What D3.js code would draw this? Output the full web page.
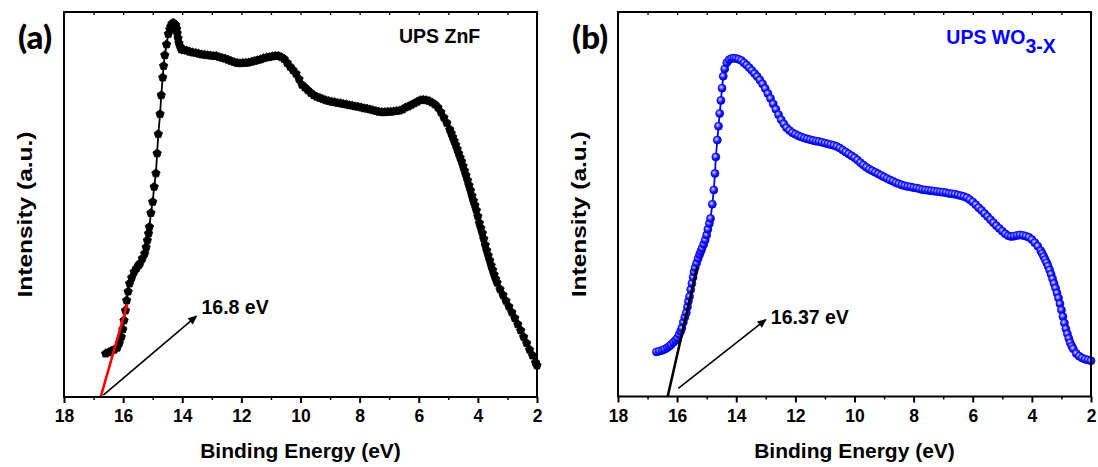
<!DOCTYPE html>
<html>
<head>
<meta charset="utf-8">
<script src="https://cdn.jsdelivr.net/npm/d3@7"></script>
<style>
  html, body { margin: 0; padding: 0; background: #fff; }
  svg { display: block; }
  text { font-family: "Liberation Sans", Arial, sans-serif; font-weight: bold; }
</style>
</head>
<body>
<svg id="chart" width="1098" height="467"></svg>
<script>
// ---------- DATA ----------
const xTicks = [18, 16, 14, 12, 10, 8, 6, 4, 2];
const xMinorTicks = [17, 15, 13, 11, 9, 7, 5, 3];

// Panel (a) UPS ZnF : binding energy (eV)
const energyA = [16.59,16.50,16.40,16.30,16.20,16.13,16.06,16.01,15.97,15.92,15.88,15.83,15.78,15.71,15.63,15.55,15.48,15.43,15.35,15.27,15.22,15.18,15.14,15.11,15.06,15.00,14.95,14.89,14.85,14.81,14.75,14.71,14.66,14.63,14.59,14.53,14.47,14.42,14.39,14.35,14.31,14.27,14.22,14.19,14.17,14.14,14.11,14.07,14.03,13.95,13.85,13.75,13.65,13.55,13.45,13.35,13.25,13.15,13.05,12.95,12.85,12.75,12.65,12.55,12.45,12.35,12.25,12.15,12.05,11.95,11.85,11.75,11.65,11.55,11.45,11.35,11.25,11.15,11.05,10.95,10.85,10.75,10.65,10.55,10.45,10.35,10.25,10.15,10.05,9.95,9.85,9.75,9.65,9.55,9.45,9.35,9.25,9.15,9.05,8.95,8.85,8.75,8.65,8.55,8.45,8.35,8.25,8.15,8.05,7.95,7.85,7.75,7.65,7.55,7.45,7.35,7.25,7.15,7.05,6.95,6.85,6.75,6.65,6.55,6.45,6.35,6.25,6.15,6.05,5.95,5.85,5.75,5.65,5.55,5.45,5.35,5.25,5.15,5.05,4.95,4.90,4.85,4.80,4.75,4.70,4.65,4.60,4.55,4.50,4.45,4.40,4.35,4.30,4.25,4.20,4.15,4.10,4.05,4.00,3.95,3.90,3.85,3.80,3.75,3.70,3.65,3.60,3.55,3.50,3.45,3.40,3.35,3.25,3.15,3.05,2.95,2.85,2.75,2.65,2.55,2.45,2.35,2.25,2.15,2.05,2.00];
const intensityA = [11.3,11.6,12.0,12.3,12.8,14.0,15.6,17.6,19.9,22.5,25.1,27.4,29.5,31.0,32.5,33.4,34.2,34.7,36.0,37.3,38.9,40.7,42.5,44.2,47.8,50.7,54.6,58.1,63.3,68.3,73.5,78.4,83.0,86.0,88.8,91.6,94.3,95.5,96.2,96.9,97.2,97.0,96.6,95.6,94.5,93.2,91.9,91.0,90.3,90.1,90.0,89.7,89.5,89.4,89.2,89.0,88.9,88.8,88.7,88.6,88.6,88.3,88.1,87.9,87.6,87.3,87.0,86.8,86.7,86.8,86.8,86.9,87.1,87.3,87.5,87.7,88.0,88.2,88.3,88.5,88.6,88.6,88.3,87.8,86.8,85.8,84.9,84.0,82.6,81.1,80.4,79.7,79.0,78.4,78.0,77.7,77.4,77.1,76.9,76.7,76.6,76.4,76.3,76.1,76.0,75.8,75.7,75.5,75.4,75.2,75.0,74.9,74.7,74.5,74.3,74.1,74.0,74.0,74.1,74.1,74.2,74.3,74.4,74.7,75.2,75.5,75.9,76.3,76.7,77.1,77.2,77.1,76.9,76.5,76.0,75.2,74.0,72.6,71.2,69.5,68.5,67.5,66.5,65.5,64.4,63.3,62.2,61.2,60.0,58.8,57.6,56.3,55.0,53.7,52.3,51.0,49.8,48.5,46.9,45.2,43.9,42.6,41.1,39.5,38.1,36.8,35.5,34.2,33.0,31.8,30.7,29.7,28.0,26.5,25.0,23.5,22.0,20.5,18.9,17.3,15.6,14.0,12.3,10.8,9.0,8.2];

// Panel (b) UPS WO3-x : binding energy (eV)
const energyB = [16.70,16.60,16.50,16.42,16.33,16.26,16.20,16.12,16.05,15.99,15.93,15.88,15.84,15.79,15.74,15.69,15.65,15.62,15.58,15.54,15.50,15.46,15.43,15.39,15.34,15.29,15.24,15.20,15.16,15.10,15.05,15.00,14.96,14.91,14.87,14.81,14.76,14.72,14.69,14.64,14.60,14.56,14.52,14.48,14.44,14.39,14.32,14.24,14.16,14.08,14.00,13.92,13.83,13.74,13.65,13.56,13.47,13.38,13.29,13.20,13.11,13.02,12.93,12.84,12.75,12.66,12.57,12.48,12.39,12.30,12.20,12.10,12.00,11.90,11.80,11.70,11.60,11.50,11.40,11.30,11.20,11.10,11.00,10.90,10.80,10.70,10.60,10.50,10.40,10.30,10.20,10.10,10.00,9.90,9.80,9.70,9.60,9.50,9.40,9.30,9.20,9.10,9.00,8.90,8.80,8.70,8.60,8.50,8.40,8.30,8.20,8.10,8.00,7.90,7.80,7.70,7.60,7.50,7.40,7.30,7.20,7.10,7.00,6.90,6.80,6.70,6.60,6.50,6.40,6.30,6.20,6.10,6.00,5.90,5.80,5.70,5.60,5.50,5.40,5.30,5.20,5.10,5.00,4.90,4.80,4.70,4.60,4.50,4.40,4.30,4.20,4.10,4.00,3.90,3.80,3.70,3.65,3.60,3.55,3.50,3.45,3.40,3.35,3.30,3.25,3.20,3.15,3.10,3.05,3.00,2.95,2.90,2.85,2.80,2.75,2.70,2.65,2.60,2.50,2.40,2.30,2.20,2.10,2.00];
const intensityB = [11.6,11.8,12.0,12.3,12.7,13.1,13.5,14.1,14.6,15.2,16.1,17.0,17.8,19.3,20.6,21.8,23.3,24.7,26.0,27.8,29.4,31.0,32.4,33.5,34.7,35.9,36.9,37.7,38.5,39.6,40.7,42.0,43.5,45.0,46.3,50.0,53.7,58.0,62.3,66.7,70.3,73.6,77.0,80.2,83.3,85.2,86.8,87.6,87.9,88.0,87.9,87.7,87.4,86.8,86.2,85.5,84.8,84.0,83.2,82.3,81.3,80.1,78.8,77.5,76.1,74.7,73.3,72.0,70.9,69.9,69.2,68.6,68.2,67.8,67.5,67.2,67.0,66.8,66.6,66.4,66.3,66.1,65.9,65.7,65.5,65.3,65.0,64.6,64.1,63.6,63.1,62.6,62.1,61.5,60.8,60.2,59.6,59.1,58.7,58.3,57.9,57.5,57.1,56.7,56.3,56.0,55.6,55.3,55.0,54.8,54.6,54.5,54.3,54.2,54.0,53.8,53.7,53.6,53.5,53.4,53.3,53.2,53.1,53.0,52.8,52.7,52.6,52.4,52.2,52.0,51.7,51.2,50.6,49.9,49.1,48.4,47.6,46.8,46.0,45.2,44.4,43.7,43.0,42.3,41.8,41.6,41.7,41.9,42.0,41.9,41.7,41.4,40.8,40.0,39.1,37.9,37.2,36.4,35.6,34.8,33.9,32.9,31.8,30.6,29.4,28.2,26.9,25.6,24.1,22.5,20.8,19.1,17.6,16.3,15.1,14.0,13.1,12.4,11.2,10.5,10.0,9.7,9.5,9.3];

// Onset tangent lines and arrows [E1, I1, E2, I2]
const tangentA = [16.76, 0, 15.86, 24.1];
const arrowA   = [16.67, 0.5, 13.52, 21.0];
const tangentB = [16.32, 0, 15.32, 33.7];
const arrowB   = [15.96, 2.1, 13.00, 20.0];

const panelLabels = ["(a)", "(b)"];
const onsetLabels = ["16.8 eV", "16.37 eV"];
const xTitle = "Binding Energy (eV)";
const yTitle = "Intensity (a.u.)";

// ---------- DRAW ----------
const svg = d3.select("#chart");
const defs = svg.append("defs");

const grad = defs.append("radialGradient").attr("id", "ball")
  .attr("cx", "40%").attr("cy", "38%").attr("r", "60%");
grad.append("stop").attr("offset", "0%").attr("stop-color", "#e8e8ff");
grad.append("stop").attr("offset", "22%").attr("stop-color", "#8c8cff");
grad.append("stop").attr("offset", "60%").attr("stop-color", "#1a1aff");
grad.append("stop").attr("offset", "100%").attr("stop-color", "#0000cc");

defs.append("marker").attr("id", "arrowHead")
  .attr("viewBox", "0 0 10 10").attr("refX", 9).attr("refY", 5)
  .attr("markerUnits", "userSpaceOnUse")
  .attr("markerWidth", 12).attr("markerHeight", 9)
  .attr("orient", "auto")
  .append("path").attr("d", "M0,0.5 L10,5 L0,9.5 Z").attr("fill", "#000");

const pentagon = {
  draw(ctx, size) {
    const r = Math.sqrt(size / 2.3776);
    for (let i = 0; i < 5; i++) {
      const a = -Math.PI / 2 + i * 2 * Math.PI / 5;
      const x = r * Math.cos(a), y = r * Math.sin(a);
      if (i) ctx.lineTo(x, y); else ctx.moveTo(x, y);
    }
    ctx.closePath();
  }
};

function panel(opts) {
  const { left, right, top, bottom } = opts;
  const x = d3.scaleLinear().domain([18, 2]).range([left, right]);
  const y = d3.scaleLinear().domain([0, 100]).range([bottom, top]);
  const g = svg.append("g");

  const data = opts.energy.map((e, i) => ({ e, v: opts.intensity[i] }))
    .sort((a, b) => b.e - a.e);

  // connecting line
  g.append("path").datum(data)
    .attr("d", d3.line().x(d => x(d.e)).y(d => y(d.v)))
    .attr("fill", "none").attr("stroke", opts.color).attr("stroke-width", opts.lineWidth);

  // markers
  if (opts.symbol === "pentagon") {
    g.append("g").selectAll("path").data(data).join("path")
      .attr("transform", d => `translate(${x(d.e)},${y(d.v)})`)
      .attr("d", d3.symbol().type(pentagon).size(46))
      .attr("fill", "#000").attr("stroke", "#000").attr("stroke-width", 0.8);
  } else {
    g.append("g").selectAll("circle").data(data).join("circle")
      .attr("cx", d => x(d.e)).attr("cy", d => y(d.v)).attr("r", 4)
      .attr("fill", "url(#ball)").attr("stroke", "#0000ee").attr("stroke-width", 0.7);
  }

  // tangent line
  const t = opts.tangent;
  g.append("line")
    .attr("x1", x(t[0])).attr("y1", y(t[1])).attr("x2", x(t[2])).attr("y2", y(t[3]))
    .attr("stroke", opts.tangentColor).attr("stroke-width", 2.6);

  // arrow
  const a = opts.arrow;
  g.append("line")
    .attr("x1", x(a[0])).attr("y1", y(a[1])).attr("x2", x(a[2])).attr("y2", y(a[3]))
    .attr("stroke", "#000").attr("stroke-width", 1.6).attr("marker-end", "url(#arrowHead)");

  g.append("text").attr("x", x(a[2]) + 5).attr("y", y(a[3]) + opts.onsetDy)
    .attr("font-size", 19.5).attr("fill", "#000").text(opts.onsetLabel);

  // axes
  const axB = g.append("g").attr("transform", `translate(0,${bottom})`)
    .call(d3.axisBottom(x).tickValues(xTicks).tickSize(6).tickPadding(7).tickFormat(d3.format("d")));
  axB.select(".domain").remove();
  axB.selectAll(".tick line").attr("stroke-width", 2);
  axB.selectAll("text").attr("font-size", 17.5).attr("font-family", "'Liberation Sans', Arial, sans-serif")
    .attr("font-weight", "bold").attr("fill", "#000");

  const axBm = g.append("g").attr("transform", `translate(0,${bottom})`)
    .call(d3.axisBottom(x).tickValues(xMinorTicks).tickSize(3).tickFormat(""));
  axBm.select(".domain").remove();
  axBm.selectAll(".tick line").attr("stroke-width", 1.5);

  const axT = g.append("g").attr("transform", `translate(0,${top})`)
    .call(d3.axisTop(x).tickValues(xTicks.concat(xMinorTicks)).tickSize(-3).tickFormat(""));
  axT.select(".domain").remove();
  axT.selectAll(".tick line").attr("stroke-width", 1.3);

  // frame
  g.append("rect").attr("x", left).attr("y", top)
    .attr("width", right - left).attr("height", bottom - top)
    .attr("fill", "none").attr("stroke", "#000").attr("stroke-width", 2);

  // titles
  g.append("text").attr("x", (left + right) / 2).attr("y", 458)
    .attr("text-anchor", "middle").attr("font-size", 21).text(xTitle);
  g.append("text")
    .attr("transform", `translate(${left - 32.5},${(top + bottom) / 2 + 10}) rotate(-90)`)
    .attr("text-anchor", "middle").attr("font-size", 21)
    .attr("textLength", 166).attr("lengthAdjust", "spacingAndGlyphs")
    .text(yTitle);

  g.append("text").attr("x", left - 46).attr("y", 49)
    .style("font-family", "Lato, 'Open Sans', sans-serif").style("font-weight", "900")
    .attr("font-size", 33)
    .text(opts.panelLabel);

  return { x, y, g };
}

const pA = panel({
  left: 64, right: 537, top: 12, bottom: 397,
  energy: energyA, intensity: intensityA, color: "#000", lineWidth: 1.8, symbol: "pentagon",
  tangent: tangentA, tangentColor: "#ff0000", arrow: arrowA,
  onsetLabel: onsetLabels[0], onsetDy: -2, panelLabel: panelLabels[0]
});
pA.g.append("text").attr("x", 399).attr("y", 42.7).attr("font-size", 19.5).attr("fill", "#000").text("UPS ZnF");

const pB = panel({
  left: 618, right: 1091, top: 12, bottom: 396.5,
  energy: energyB, intensity: intensityB, color: "#0000ff", lineWidth: 1.8, symbol: "ball",
  tangent: tangentB, tangentColor: "#000", arrow: arrowB,
  onsetLabel: onsetLabels[1], onsetDy: 4, panelLabel: panelLabels[1]
});
const lbl = pB.g.append("text").attr("x", 946.3).attr("y", 44.3).attr("font-size", 19.5).attr("fill", "#0000ff");
lbl.append("tspan").text("UPS WO");
lbl.append("tspan").attr("dy", 8.4).attr("font-size", 19.5).text("3-X");
</script>
</body>
</html>
